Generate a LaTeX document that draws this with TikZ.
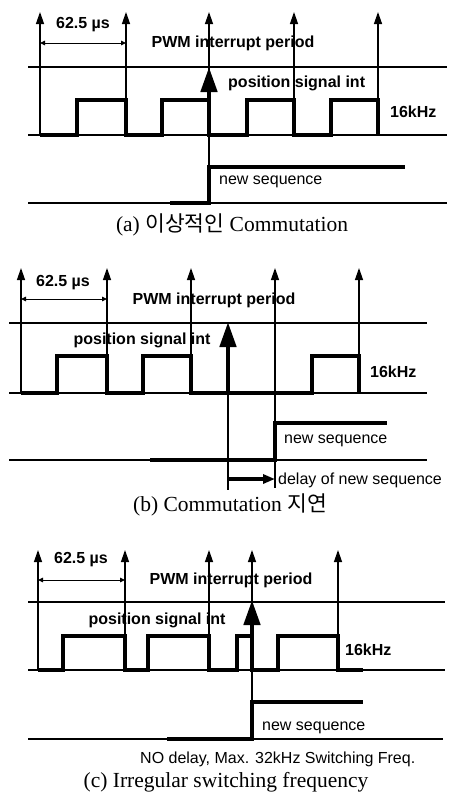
\documentclass[tikz,border=0pt]{standalone}
\usepackage{fontspec}
\setmainfont{Liberation Serif}
\setsansfont{Liberation Sans}
\newfontfamily\krfont{Noto Sans CJK KR}
\usetikzlibrary{arrows.meta}

\begin{document}
\begin{tikzpicture}[
    x=1pt, y=-1pt,
    thinline/.style={line width=1.3pt},
    wave/.style={line width=3.8pt, line join=miter},
    irq/.style={
        line width=1.3pt,
        -{Triangle[length=12pt, width=8pt]},
    },
    possig/.style={
        line width=4.6pt,
        -{Triangle[length=25pt, width=16pt]},
    },
    delayarrow/.style={
        line width=3.6pt,
        -{Triangle[length=12pt, width=9pt]},
    },
    dimarrow/.style={
        line width=1pt,
        {Triangle[length=5pt, width=4.5pt]}-{Triangle[length=5pt, width=4.5pt]},
    },
    lbl/.style={font=\sffamily\bfseries\fontsize{16}{18}\selectfont, inner sep=0pt},
    seqlbl/.style={font=\sffamily\fontsize{16}{18}\selectfont, inner sep=0pt},
    capt/.style={font=\fontsize{21.5}{24}\selectfont, inner sep=0pt},
]
\useasboundingbox (0,0) rectangle (453,798);

% =============================================
% (a) ideal commutation
% =============================================
% Labels
\node[lbl] (aPer) at (83,25) {62.5 µs};
\node[lbl] (aPwm) at (233,43) {PWM interrupt period};
\node[lbl, anchor=west] (aPos) at (228,83) {position signal int};
\node[lbl, anchor=west] (aFreq) at (390,112) {16kHz};
\node[seqlbl, anchor=west] (aSeq) at (219,182) {new sequence};
\node[capt] (aCap) at (232,225) {(a) {\krfont 이상적인} Commutation};

% Reference lines
\draw[thinline] (28,67) -- (447,67);
\draw[thinline] (28,135) -- (447,135);
\draw[thinline] (28,203) -- (447,203);

% PWM interrupts
\foreach \x [count=\i] in {40,126,209,294,378} {
  \coordinate (aB\i) at (\x,135);
  \coordinate (aT\i) at (\x,12);
  \draw[irq] (aB\i) -- (aT\i);
}
\coordinate (aD1) at (40,43);
\coordinate (aD2) at (126,43);
\draw[dimarrow] (aD1) -- (aD2);

% 16kHz switching
\draw[wave] (40,135)
  \foreach \u/\d in {77/126,162/209,247/294,331/378} {
    -- (\u,135) -- (\u,100) -- (\d,100) -- (\d,135)
  };

% Position signal interrupt
\coordinate (aS) at (209,135);
\coordinate (aP) at (209,67);
\draw[possig] (aS) -- (aP);

% New sequence
\coordinate (aN) at (209,167);
\draw[thinline] (aS) -- (aN);
\draw[wave] (170,203) -- (209,203) -- (aN) -- (405,167);

% =============================================
% (b) delayed commutation
% =============================================
% Labels
\node[lbl] (bPer) at (63,283) {62.5 µs};
\node[lbl] (bPwm) at (214,300) {PWM interrupt period};
\node[lbl] (bPos) at (142,340) {position signal int};
\node[lbl, anchor=west] (bFreq) at (370,372) {16kHz};
\node[seqlbl, anchor=west] (bSeq) at (284,441) {new sequence};
\node[seqlbl, anchor=west] (bDel) at (278,480) {delay of new sequence};
\node[capt] (bCap) at (230,505) {(b) Commutation {\krfont 지연}};

% Reference lines
\draw[thinline] (9,323) -- (427,323);
\draw[thinline] (9,393) -- (427,393);
\draw[thinline] (9,460) -- (427,460);

% PWM interrupts
\foreach \x [count=\i] in {21,107,191,275,359} {
  \coordinate (bB\i) at (\x,393);
  \coordinate (bT\i) at (\x,268);
  \draw[irq] (bB\i) -- (bT\i);
}
\coordinate (bD1) at (21,299);
\coordinate (bD2) at (107,299);
\draw[dimarrow] (bD1) -- (bD2);

% 16kHz switching (one pulse missing)
\draw[wave] (21,393)
  \foreach \u/\d in {57/107,143/191,312/359} {
    -- (\u,393) -- (\u,356) -- (\d,356) -- (\d,393)
  };

% Position signal interrupt
\coordinate (bS) at (228,393);
\coordinate (bP) at (228,322);
\draw[possig] (bS) -- (bP);

% New sequence, started at the next interrupt
\coordinate (bN) at (275,423);
\coordinate (bE) at (275,488);
\coordinate (bF) at (228,490);
\draw[thinline] (bB4) -- (bE);
\draw[thinline] (bS) -- (bF);
\draw[wave] (150,460) -- (275,460) -- (bN) -- (387,423);

% Delay
\coordinate (bL1) at (228,479);
\coordinate (bL2) at (275,479);
\draw[delayarrow] (bL1) -- (bL2);

% =============================================
% (c) irregular switching frequency
% =============================================
% Labels
\node[lbl] (cPer) at (81,560) {62.5 µs};
\node[lbl] (cPwm) at (231,580) {PWM interrupt period};
\node[lbl] (cPos) at (157,620) {position signal int};
\node[lbl, anchor=west] (cFreq) at (345,650) {16kHz};
\node[seqlbl, anchor=west] (cSeq) at (262,728) {new sequence};
\node[seqlbl, anchor=west] (cNote) at (140,759) {NO delay, Max. 32kHz Switching Freq.};
\node[capt] (cCap) at (226,782) {(c) Irregular switching frequency};

% Reference lines
\draw[thinline] (28,602) -- (445,602);
\draw[thinline] (28,670) -- (445,670);
\draw[thinline] (28,739) -- (443,739);

% PWM interrupts
\foreach \x [count=\i] in {38,125,209,252,338} {
  \coordinate (cB\i) at (\x,670);
  \coordinate (cT\i) at (\x,550);
  \draw[irq] (cB\i) -- (cT\i);
}
\coordinate (cD1) at (38,580);
\coordinate (cD2) at (125,580);
\draw[dimarrow] (cD1) -- (cD2);

% Switching with a short pulse
\draw[wave] (38,670)
  \foreach \u/\d in {63/125,148/209,237/252,278/338} {
    -- (\u,670) -- (\u,636) -- (\d,636) -- (\d,670)
  } -- (363,670);

% Position signal interrupt
\coordinate (cS) at (252,670);
\coordinate (cP) at (252,600);
\draw[possig] (cS) -- (cP);

% New sequence
\coordinate (cN) at (252,702);
\draw[thinline] (cS) -- (cN);
\draw[wave] (167,739) -- (252,739) -- (cN) -- (363,702);

\end{tikzpicture}
\end{document}
